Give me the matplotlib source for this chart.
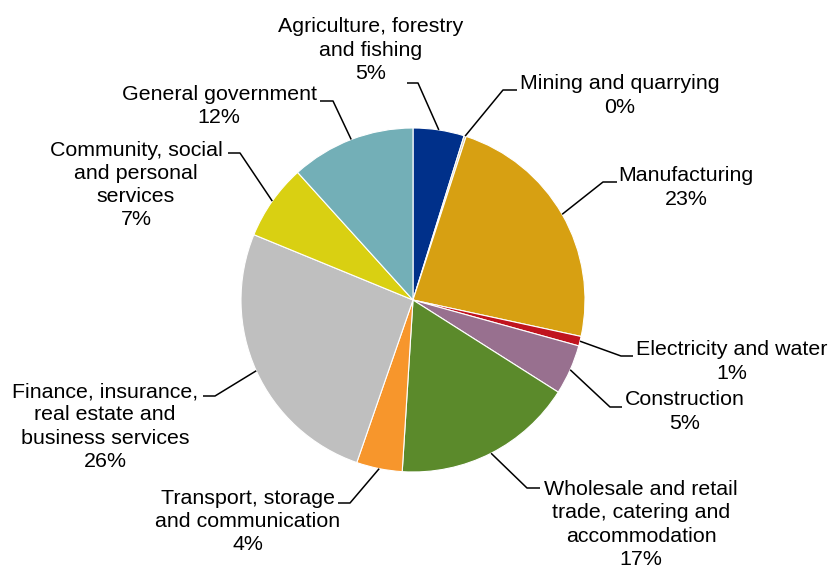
import matplotlib
matplotlib.use("Agg")
import numpy as np
import matplotlib.pyplot as plt

plt.rcParams['font.family'] = ['Liberation Sans', 'DejaVu Sans']

# Share of output by sector, per cent
sectors = [
    "Agriculture, forestry\nand fishing",
    "Mining and quarrying",
    "Manufacturing",
    "Electricity and water",
    "Construction",
    "Wholesale and retail\ntrade, catering and\naccommodation",
    "Transport, storage\nand communication",
    "Finance, insurance,\nreal estate and\nbusiness services",
    "Community, social\nand personal\nservices",
    "General government",
]
shares = [4.8, 0.2, 23.4, 0.9, 4.7, 17.0, 4.3, 25.9, 7.1, 11.7]
colors = ["#00308A", "#D2C7A8", "#D7A012", "#C0141F", "#98708F",
          "#5B8A2B", "#F7962C", "#BFBFBF", "#D9D012", "#73AFB7"]

# label block centre (x, y) and leader elbow / end x, leader y  (pixels, y down)
label_pos = [(371, 50), (620, 95.5), (686, 187.5), (732, 361.5), (685, 411.5),
             (641, 524.5), (248, 521.3), (105, 426.5), (136, 185), (219, 106)]
leaders = [(418, 407, 83), (503, 517, 90), (603, 617, 182), (621, 633, 356),
           (610, 622, 407), (527, 540, 488), (350, 338, 503), (215, 203, 396),
           (240, 228, 153), (333, 320, 101)]

W, H = 830, 566
cx, cy, r = 413, H - 300, 172

fig = plt.figure(figsize=(8.3, 5.66), dpi=100)
ax = fig.add_axes([0, 0, 1, 1])

wedges, _ = ax.pie(shares, colors=colors, startangle=90, counterclock=False,
                   center=(cx, cy), radius=r,
                   wedgeprops=dict(edgecolor='white', linewidth=0.8))
ax.set_xlim(0, W)
ax.set_ylim(0, H)
ax.set_aspect('equal')
ax.axis('off')

for w, name, val, (tx, ty), (ex, lx, ly) in zip(wedges, sectors, shares, label_pos, leaders):
    mid = np.deg2rad((w.theta1 + w.theta2) / 2)
    px, py = cx + r * np.cos(mid), cy + r * np.sin(mid)
    ax.plot([px, ex, lx], [py, H - ly, H - ly], color='black', lw=1.1,
            solid_capstyle='butt')
    ax.text(tx, H - ty, f"{name}\n{val:.0f}%", ha='center', va='center',
            multialignment='center', fontsize=15.4, linespacing=1.28)

fig.savefig("out.png", dpi=100)
